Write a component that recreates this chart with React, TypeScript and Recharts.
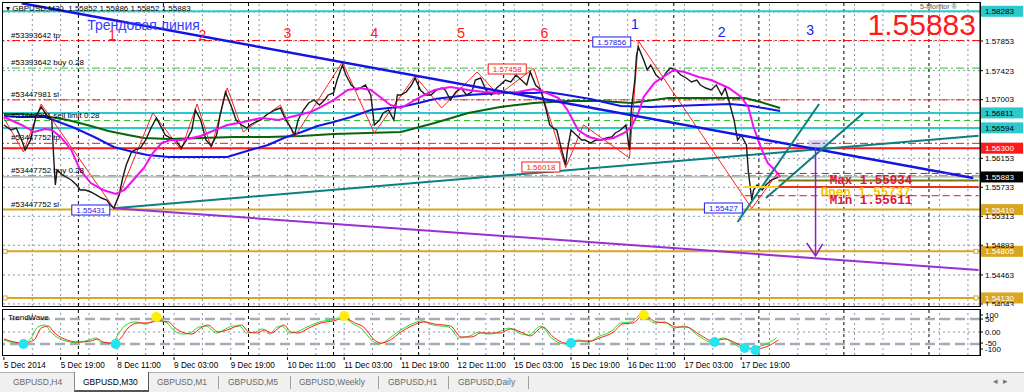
import React from "react";
import {
  ComposedChart,
  Line,
  XAxis,
  YAxis,
  ReferenceLine,
  ReferenceDot,
  ReferenceArea,
  Scatter,
} from "recharts";

const FONT = "'Liberation Sans', Arial, sans-serif";
const MONO = "'Liberation Mono', 'DejaVu Sans Mono', monospace";

// x = M30 bar index counted from 5 Dec 2014 03:00
const closes: [number, number][] = [
  [0, 1.56636], [4, 1.56563], [7, 1.56592], [10, 1.56418], [12, 1.56274], [15, 1.56418], [18, 1.56752],
  [21, 1.56897], [24, 1.56781], [27, 1.56708], [28, 1.56201], [29, 1.55766], [30, 1.55984], [33, 1.55911],
  [38, 1.55839], [41, 1.55766], [43, 1.55694], [46, 1.55694], [49, 1.55665], [52, 1.55622], [55, 1.55578],
  [58, 1.55549], [60, 1.55477], [62, 1.55433], [65, 1.55622], [67, 1.55868], [69, 1.56056], [72, 1.56245],
  [74, 1.56274], [77, 1.56303], [80, 1.56418], [83, 1.56592], [86, 1.56737], [89, 1.56592], [91, 1.56491],
  [94, 1.56447], [97, 1.56418], [100, 1.56303], [103, 1.56418], [106, 1.56563], [108, 1.56853], [111, 1.56708],
  [114, 1.56418], [117, 1.56332], [120, 1.56491], [122, 1.56781], [125, 1.57114], [128, 1.56926], [131, 1.56708],
  [134, 1.56636], [137, 1.56592], [139, 1.56636], [142, 1.56679], [145, 1.56708], [148, 1.56781], [151, 1.56824],
  [153, 1.56853], [156, 1.56882], [159, 1.56708], [162, 1.56592], [164, 1.56491], [166, 1.56708], [169, 1.56853],
  [172, 1.56955], [175, 1.56998], [178, 1.56926], [181, 1.56998], [183, 1.57071], [186, 1.571], [188, 1.57288],
  [191, 1.57505], [193, 1.5736], [196, 1.57215], [199, 1.57143], [201, 1.57172], [204, 1.57215], [207, 1.57071],
  [209, 1.56636], [212, 1.56708], [214, 1.5681], [217, 1.56853], [220, 1.56708], [222, 1.57071], [224, 1.57071],
  [227, 1.57114], [230, 1.57215], [232, 1.57317], [235, 1.57143], [238, 1.57071], [241, 1.57071], [244, 1.57143],
  [247, 1.57172], [249, 1.57143], [252, 1.56998], [255, 1.57114], [258, 1.57172], [261, 1.57071], [264, 1.57114],
  [266, 1.57288], [269, 1.57317], [272, 1.57143], [275, 1.57071], [278, 1.57172], [280, 1.57215], [283, 1.57288],
  [286, 1.57259], [289, 1.5736], [292, 1.57288], [295, 1.57215], [297, 1.57404], [300, 1.57215], [303, 1.57143],
  [306, 1.56853], [308, 1.56636], [310, 1.56592], [312, 1.56563], [314, 1.56346], [317, 1.56056], [318, 1.56274],
  [320, 1.56563], [323, 1.56491], [326, 1.56418], [328, 1.56418], [331, 1.56375], [334, 1.56418], [337, 1.56418],
  [340, 1.56447], [343, 1.56462], [345, 1.5652], [348, 1.56563], [351, 1.56636], [353, 1.56274], [354, 1.56853],
  [356, 1.57288], [357, 1.5765], [358, 1.57766], [361, 1.57578], [363, 1.57433], [365, 1.57505], [368, 1.5736],
  [371, 1.57288], [374, 1.57404], [376, 1.57462], [379, 1.57433], [382, 1.5736], [385, 1.57317], [388, 1.57259],
  [391, 1.57288], [393, 1.57215], [396, 1.57172], [399, 1.57143], [402, 1.57215], [405, 1.57071], [407, 1.57172],
  [409, 1.56998], [412, 1.56708], [414, 1.56418], [416, 1.56491], [419, 1.56346], [420, 1.55984], [422, 1.55549],
  [423, 1.55694], [425, 1.55766], [428, 1.55694], [430, 1.55766], [433, 1.55839], [436, 1.55868], [437, 1.55883],
];

const zigzag: [number, number][] = [
  [0, 1.56737], [11, 1.56245], [21, 1.5694], [62, 1.55431], [84, 1.5681], [100, 1.56274], [109, 1.5694],
  [117, 1.56303], [126, 1.57172], [135, 1.56534], [156, 1.56926], [164, 1.56462], [191, 1.57549], [209, 1.5652],
  [232, 1.57346], [247, 1.56882], [267, 1.57404], [279, 1.57071], [299, 1.57458], [317, 1.56018], [327, 1.56636],
  [353, 1.56158], [358, 1.57856], [422, 1.55427], [437, 1.55955],
];

const maMagenta: [number, number][] = [
  [0, 1.56752], [10, 1.56636], [17, 1.56534], [23, 1.56578], [27, 1.56563], [32, 1.56462], [38, 1.56274],
  [43, 1.55984], [49, 1.55795], [56, 1.55694], [63, 1.55636], [68, 1.55694], [73, 1.55839], [79, 1.56013],
  [84, 1.5623], [89, 1.56375], [94, 1.56418], [100, 1.56418], [106, 1.56447], [111, 1.56476], [126, 1.56636],
  [135, 1.56679], [145, 1.56737], [155, 1.56708], [164, 1.56766], [173, 1.56824], [179, 1.56897], [186, 1.56998],
  [194, 1.57143], [201, 1.57172], [207, 1.57143], [213, 1.57027], [218, 1.56926], [224, 1.56882], [230, 1.56969],
  [235, 1.57042], [243, 1.57143], [252, 1.57187], [262, 1.57143], [271, 1.57114], [280, 1.571], [290, 1.57114],
  [299, 1.57158], [305, 1.57114], [313, 1.57027], [318, 1.56853], [324, 1.56563], [330, 1.56462], [337, 1.56418],
  [344, 1.56447], [350, 1.5652], [354, 1.56607], [358, 1.5681], [361, 1.57042], [367, 1.57244], [372, 1.57331],
  [378, 1.57433], [384, 1.57404], [392, 1.57331], [399, 1.57288], [409, 1.57172], [416, 1.57042], [420, 1.56897],
  [423, 1.56607], [427, 1.56317], [431, 1.56085], [435, 1.55984], [438, 1.55882],
];

const maBlue: [number, number][] = [
  [0, 1.56766], [10, 1.56752], [23, 1.56752], [28, 1.56708], [40, 1.56592], [51, 1.56462], [62, 1.56317],
  [73, 1.56245], [81, 1.56201], [93, 1.56172], [111, 1.56172], [126, 1.56172], [139, 1.56274], [149, 1.56346],
  [158, 1.56447], [168, 1.56534], [177, 1.56621], [186, 1.56679], [196, 1.56752], [207, 1.56853], [217, 1.56882],
  [224, 1.56897], [234, 1.56955], [243, 1.57013], [262, 1.57071], [280, 1.571], [299, 1.571], [306, 1.57114],
  [314, 1.57085], [331, 1.57013], [348, 1.56911], [365, 1.56897], [393, 1.56926], [410, 1.5694], [422, 1.56911],
  [438, 1.56839],
];

const maGreen: [number, number][] = [
  [0, 1.56795], [10, 1.56795], [23, 1.56766], [36, 1.56708], [47, 1.56636], [59, 1.56549], [70, 1.56491],
  [79, 1.56447], [93, 1.56433], [111, 1.56447], [130, 1.56462], [149, 1.56462], [168, 1.56476], [186, 1.56505],
  [205, 1.5652], [224, 1.56534], [243, 1.56665], [262, 1.5681], [280, 1.56897], [299, 1.56955], [318, 1.56984],
  [337, 1.56984], [354, 1.56955], [375, 1.57027], [393, 1.57027], [418, 1.57027], [427, 1.56969], [438, 1.56882],
];

const trendBlue: [number, number][] = [[10, 1.584], [547, 1.55868]];
const trendTeal: [number, number][] = [[62, 1.55431], [550, 1.56479]];
const trendPurple: [number, number][] = [[62, 1.55431], [550, 1.54536]];
const channelLow: [number, number][] = [[414, 1.5523], [460, 1.5694]];
const channelHigh: [number, number][] = [[430, 1.55578], [485, 1.5681]];
const arrowShaft: [number, number][] = [[458, 1.56303], [458, 1.54738]];
const arrowHead: [number, number][] = [[453, 1.54926], [458, 1.54738], [462, 1.54912]];

const dayMax: [number, number][] = [[418, 1.55934], [550, 1.55934]];
const dayOpen: [number, number][] = [[418, 1.55737], [437, 1.55737]];
const dayOpenRest: [number, number][] = [[437, 1.55737], [550, 1.55737]];
const dayMin: [number, number][] = [[418, 1.55611], [550, 1.55611]];
const dayClose: [number, number][] = [[437, 1.5583], [550, 1.5583]];

// horizontal levels: price, kind, tag text on the price scale
const levels: { price: number; kind: string; tag?: string }[] = [
  { price: 1.58283, kind: "cyan", tag: "1.58283" },
  { price: 1.5786, kind: "tp" },
  { price: 1.5746, kind: "buy" },
  { price: 1.57, kind: "sl" },
  { price: 1.56811, kind: "cyan", tag: "1.56811" },
  { price: 1.567, kind: "limit" },
  { price: 1.56594, kind: "cyan", tag: "1.56594" },
  { price: 1.5637, kind: "tp" },
  { price: 1.563, kind: "red", tag: "1.56300" },
  { price: 1.559, kind: "buy" },
  { price: 1.55883, kind: "bid", tag: "1.55883" },
  { price: 1.5541, kind: "gold", tag: "1.55410" },
  { price: 1.54805, kind: "gold", tag: "1.54805" },
  { price: 1.5413, kind: "gold", tag: "1.54130" },
];

const orderTexts: [number, string][] = [
  [1.5786, "#53393642 tp"],
  [1.5746, "#53393642 buy 0.28"],
  [1.57, "#53447981 sl"],
  [1.567, "#53447981 sell limit 0.28"],
  [1.5637, "#53447752 tp"],
  [1.559, "#53447752 buy 0.28"],
  [1.5541, "#53447752 sl"],
];

const waveLabels: [number, number, string, string][] = [
  [61, 1.5794, "1", "red"], [112, 1.5794, "2", "red"], [160, 1.57969, "3", "red"],
  [209, 1.57969, "4", "red"], [258, 1.57969, "5", "red"], [305, 1.57969, "6", "red"],
  [356, 1.58099, "1", "blue"], [405, 1.57983, "2", "blue"], [455, 1.58012, "3", "blue"],
];

const swingTags: [number, number, string, string][] = [
  [49, 1.55404, "1.55431", "blue"],
  [303, 1.56027, "1.56018", "red"],
  [284, 1.57447, "1.57458", "red"],
  [343, 1.57839, "1.57856", "blue"],
  [406, 1.55433, "1.55427", "blue"],
];

const priceTicks = [1.57853, 1.57423, 1.57003, 1.56153, 1.55733, 1.55313, 1.54893, 1.54463, 1.54043];
const gridPrices = [1.58273, 1.57853, 1.57423, 1.57003, 1.56583, 1.56153, 1.55733, 1.55313, 1.54893, 1.54463, 1.54043];
const gridBars = [
  16, 32, 48, 64, 80, 96, 112, 128, 144, 160, 176, 192, 208, 224, 240, 256, 272, 288, 304, 320, 336, 352,
  368, 384, 400, 416, 432, 448, 464, 480, 496, 512, 528, 544,
];
const daySeps = [42, 90, 138, 186, 234, 282, 330, 378, 426, 474, 522];

const timeTicks = [0, 32, 64, 96, 128, 160, 192, 224, 256, 288, 320, 352, 384, 416];
const timeLabels = [
  "5 Dec 2014", "5 Dec 19:00", "8 Dec 11:00", "9 Dec 03:00", "9 Dec 19:00", "10 Dec 11:00", "11 Dec 03:00",
  "11 Dec 19:00", "12 Dec 11:00", "15 Dec 03:00", "15 Dec 19:00", "16 Dec 11:00", "17 Dec 03:00", "17 Dec 19:00",
];

// TrendWave oscillator
const waveRed: [number, number][] = [
  [0, -41], [6, -59], [11, -65], [17, -47], [21, 23], [25, 35], [28, 0], [34, -41], [42, -59], [49, -53],
  [53, -41], [56, -59], [62, -65], [66, -35], [70, 23], [76, 53], [81, 53], [87, 65], [93, 59], [96, 29],
  [102, -6], [106, -12], [111, 23], [115, 41], [121, 0], [126, 12], [130, 29], [134, 41], [138, 0], [143, -6],
  [147, 12], [151, -6], [155, 23], [158, 41], [162, 0], [166, -6], [172, 23], [179, 53], [186, 65], [192, 82],
  [198, 53], [203, 29], [209, -47], [213, -65], [218, -47], [224, 0], [230, 35], [237, 59], [243, 47], [252, 35],
  [258, -29], [264, -29], [269, -6], [275, -6], [280, -6], [286, 18], [293, -6], [297, -23], [304, 29], [310, -29],
  [317, -65], [325, -53], [331, -53], [336, -35], [344, 0], [349, 47], [355, 53], [361, 100], [368, 59], [374, 53],
  [379, 29], [385, 29], [393, -18], [400, -53], [407, -41], [413, -65], [419, -94], [424, -100], [430, -88], [437, -47],
];
const waveGreen: [number, number][] = [
  [0, -47], [5, -62], [10, -68], [15, -41], [19, 29], [23, 41], [27, -6], [33, -47], [41, -62], [48, -47],
  [52, -35], [55, -62], [61, -68], [64, -23], [68, 35], [74, 59], [80, 47], [86, 71], [92, 53], [95, 18],
  [101, -12], [105, -6], [110, 29], [114, 35], [120, -6], [125, 18], [129, 35], [133, 35], [137, -6], [142, 0],
  [146, 18], [150, -12], [154, 29], [157, 35], [161, -6], [165, 0], [171, 29], [178, 59], [185, 71], [191, 88],
  [197, 47], [202, 18], [208, -53], [212, -70], [217, -41], [223, 6], [229, 41], [236, 65], [242, 41], [251, 29],
  [257, -35], [263, -23], [268, 0], [274, -12], [279, 0], [285, 23], [292, -12], [296, -18], [303, 35], [309, -35],
  [316, -70], [324, -47], [330, -59], [335, -29], [343, 6], [348, 53], [354, 59], [360, 106], [367, 53], [373, 59],
  [378, 23], [384, 35], [392, -23], [399, -59], [406, -35], [412, -70], [418, -100], [423, -94], [429, -76], [436, -35],
];
const wavePeaks: [number, number][] = [[86, 88], [192, 94], [361, 100]];
const waveTroughs: [number, number][] = [[11, -70], [63, -70], [320, -65], [401, -59], [418, -94], [424, -106]];
const waveTicks = [100, 76, 0, -65, -100];
const waveTickLabels = ["100", "50", "0.00", "-50", "-100"];
const waveLevels = [76, -70];

const tabs = ["GBPUSD,H4", "GBPUSD,M30", "GBPUSD,M1", "GBPUSD,M5", "GBPUSD,Weekly", "GBPUSD,H1", "GBPUSD,Daily"];

const X_DOMAIN: [number, number] = [-1.1, 550.8];
const toP = (a: [number, number][]) => a.map(([i, p]) => ({ i, p }));
const toV = (a: [number, number][]) => a.map(([i, v]) => ({ i, v }));

const levelStyle: Record<string, { stroke: string; width: number; dash?: string; bg?: string; fg?: string }> = {
  cyan: { stroke: "#2cc9cc", width: 2, bg: "#2cc9cc", fg: "#000" },
  tp: { stroke: "#ff1010", width: 1, dash: "8 3 2 3" },
  sl: { stroke: "#ff1010", width: 1, dash: "8 3 2 3" },
  buy: { stroke: "#22c322", width: 1, dash: "8 3 2 3" },
  limit: { stroke: "#22c322", width: 1, dash: "6 4" },
  red: { stroke: "#ff1a1a", width: 2, bg: "#ff1a1a", fg: "#fff" },
  bid: { stroke: "#9a9a9a", width: 1, bg: "#000", fg: "#fff" },
  gold: { stroke: "#daa520", width: 2, bg: "#daa520", fg: "#fff" },
};

const seg = (key: string, data: [number, number][], stroke: string, width: number, dash?: string) => (
  <Line
    key={key}
    data={toP(data)}
    dataKey="p"
    type="linear"
    stroke={stroke}
    strokeWidth={width}
    strokeDasharray={dash}
    dot={false}
    activeDot={false}
    isAnimationActive={false}
  />
);

const TimeTick = (props: any) => {
  const { x, y, payload } = props;
  const idx = timeTicks.indexOf(payload.value);
  return (
    <g>
      <line x1={x} y1={y} x2={x} y2={y + 3} stroke="#000" />
      <text x={x} y={y + 11} fontSize={8.2} fontFamily={FONT} fill="#000">
        {idx >= 0 ? timeLabels[idx] : ""}
      </text>
    </g>
  );
};

export default function App() {
  return (
    <div style={{ position: "absolute", left: 0, top: 0, width: 1024, height: 392, background: "#fff", overflow: "hidden" }}>
      {/* main price panel */}
      <div style={{ position: "absolute", left: 0, top: 0 }}>
        <ComposedChart width={1024} height={306} margin={{ top: 2, right: 0, left: 2, bottom: 0 }}>
          <XAxis dataKey="i" type="number" domain={X_DOMAIN} allowDataOverflow hide />
          <YAxis
            type="number"
            orientation="right"
            domain={[1.54013, 1.58418]}
            allowDataOverflow
            ticks={priceTicks}
            width={44}
            tickSize={3}
            tickMargin={2}
            interval={0}
            tickFormatter={(v: number) => v.toFixed(5)}
            tick={{ fontSize: 8, fill: "#000", fontFamily: FONT, textAnchor: "start" }}
            axisLine={{ stroke: "#000" }}
            tickLine={{ stroke: "#000" }}
          />
          {gridPrices.map((g) => (
            <ReferenceLine key={"gy" + g} y={g} stroke="#8a96a6" strokeDasharray="2 3" />
          ))}
          {gridBars.map((g) => (
            <ReferenceLine key={"gx" + g} x={g} stroke="#8a96a6" strokeDasharray="2 3" />
          ))}
          {daySeps.map((g) => (
            <ReferenceLine key={"ds" + g} x={g} stroke="#000" strokeDasharray="3 3" />
          ))}
          {levels.map((l, k) => {
            const s = levelStyle[l.kind];
            return (
              <ReferenceLine key={"lv" + k} y={l.price} stroke={s.stroke} strokeWidth={s.width} strokeDasharray={s.dash} />
            );
          })}
          <ReferenceArea x1={454} x2={465} y1={1.56259} y2={1.56418} fill="#b8b8f0" fillOpacity={0.6} stroke="none" />
          {seg("teal", trendTeal, "#0a8080", 2)}
          {seg("purple", trendPurple, "#9a2fd6", 2)}
          {seg("green", maGreen, "#0a640a", 2)}
          {seg("blueMa", maBlue, "#1414e6", 2)}
          {seg("zig", zigzag, "#ff2020", 1)}
          {seg("close", closes, "#1a1a1a", 1.4)}
          {seg("mag", maMagenta, "#f010f0", 2)}
          {seg("blueTrend", trendBlue, "#1414e6", 2.5)}
          {seg("chLow", channelLow, "#0a8080", 2)}
          {seg("chHigh", channelHigh, "#0a8080", 2)}
          {seg("max", dayMax, "#e01030", 1, "7 4")}
          {seg("close2", dayClose, "#7a7a10", 2)}
          {seg("open", dayOpen, "#ffd21a", 2)}
          {seg("openRest", dayOpenRest, "#f03010", 2)}
          {seg("min", dayMin, "#e01030", 1, "7 4")}
          {seg("arrow", arrowShaft, "#8a20c8", 1.5)}
          {seg("arrowHead", arrowHead, "#8a20c8", 1.5)}
          {levels
            .filter((l) => l.tag)
            .map((l, k) => {
              const s = levelStyle[l.kind];
              return (
                <ReferenceDot
                  key={"tag" + k}
                  x={X_DOMAIN[1]}
                  y={l.price}
                  r={1}
                  ifOverflow="visible"
                  shape={(d: any) => (
                    <g>
                      <rect x={d.cx + 1} y={d.cy - 5.5} width={42} height={11} fill={s.bg} />
                      <text x={d.cx + 5} y={d.cy + 3} fontSize={8} fontFamily={FONT} fill={s.fg}>
                        {l.tag}
                      </text>
                    </g>
                  )}
                />
              );
            })}
          {orderTexts.map(([p, t], k) => (
            <ReferenceDot
              key={"ot" + k}
              x={4}
              y={p}
              r={1}
              ifOverflow="visible"
              shape={(d: any) => (
                <text x={d.cx} y={d.cy - 3} fontSize={8} fontFamily={FONT} fill="#000">
                  {t}
                </text>
              )}
            />
          ))}
          {waveLabels.map(([i, p, t, c], k) => (
            <ReferenceDot
              key={"wl" + k}
              x={i}
              y={p}
              r={1}
              ifOverflow="visible"
              shape={(d: any) => (
                <text x={d.cx} y={d.cy + 5} fontSize={14} fontFamily={FONT} textAnchor="middle" fill={c === "red" ? "#ff1a1a" : "#2020ee"}>
                  {t}
                </text>
              )}
            />
          ))}
          {swingTags.map(([i, p, t, c], k) => (
            <ReferenceDot
              key={"sw" + k}
              x={i}
              y={p}
              r={1}
              ifOverflow="visible"
              shape={(d: any) => (
                <g>
                  <rect x={d.cx - 19} y={d.cy - 5} width={38} height={10} fill="#fff" stroke={c === "red" ? "#ff1a1a" : "#1a1aee"} />
                  <text x={d.cx} y={d.cy + 3} fontSize={8} fontFamily={FONT} textAnchor="middle" fill={c === "red" ? "#ff1a1a" : "#1a1aee"}>
                    {t}
                  </text>
                </g>
              )}
            />
          ))}
          <ReferenceDot
            x={47}
            y={1.58085}
            r={1}
            ifOverflow="visible"
            shape={(d: any) => (
              <text x={d.cx} y={d.cy + 5} fontSize={14} fontFamily={FONT} fill="#3a3aff">
                Трендовая линия
              </text>
            )}
          />
          <ReferenceDot
            x={466}
            y={1.55834}
            r={1}
            ifOverflow="visible"
            shape={(d: any) => (
              <text x={d.cx} y={d.cy + 4} fontSize={12.5} fontWeight="bold" fontFamily={MONO} fill="#dc143c">
                Max 1.55934
              </text>
            )}
          />
          <ReferenceDot
            x={461}
            y={1.55665}
            r={1}
            ifOverflow="visible"
            shape={(d: any) => (
              <text x={d.cx} y={d.cy + 4} fontSize={12.5} fontWeight="bold" fontFamily={MONO} fill="#f5c800">
                Open 1.55737
              </text>
            )}
          />
          <ReferenceDot
            x={466}
            y={1.55549}
            r={1}
            ifOverflow="visible"
            shape={(d: any) => (
              <text x={d.cx} y={d.cy + 4} fontSize={12.5} fontWeight="bold" fontFamily={MONO} fill="#dc143c">
                Min 1.55611
              </text>
            )}
          />
          {[1.54805, 1.5413].map((p) => (
            <ReferenceDot
              key={"sq" + p}
              x={X_DOMAIN[0]}
              y={p}
              r={1}
              ifOverflow="visible"
              shape={(d: any) => (
                <g>
                  <rect x={d.cx + 1} y={d.cy - 2} width={4} height={4} fill="#fff" stroke="#daa520" />
                  <rect x={d.cx + 972} y={d.cy - 2} width={4} height={4} fill="#fff" stroke="#daa520" />
                </g>
              )}
            />
          ))}
        </ComposedChart>
        <div style={{ position: "absolute", left: 2, top: 2, width: 977, height: 303, border: "1px solid #000", pointerEvents: "none" }} />
      </div>

      {/* header texts */}
      <div style={{ position: "absolute", left: 6, top: 4, fontSize: 8, fontFamily: FONT, color: "#000", whiteSpace: "nowrap", lineHeight: "9px" }}>
        ▾ GBPUSD,M30&nbsp;&nbsp;1.55852 1.55886 1.55852 1.55883
      </div>
      <div style={{ position: "absolute", left: 920, top: 3, fontSize: 7, fontFamily: FONT, color: "#555", whiteSpace: "nowrap" }}>
        5-Monitor ®
      </div>
      <div style={{ position: "absolute", right: 48, top: 10, fontSize: 30, fontFamily: FONT, color: "#ff1a1a", lineHeight: "30px" }}>
        1.55883
      </div>

      {/* TrendWave panel */}
      <div style={{ position: "absolute", left: 0, top: 307 }}>
        <ComposedChart width={1024} height={64} margin={{ top: 2, right: 0, left: 2, bottom: 0 }}>
          <XAxis
            dataKey="i"
            type="number"
            domain={X_DOMAIN}
            allowDataOverflow
            ticks={timeTicks}
            interval={0}
            height={16}
            tickSize={0}
            tick={<TimeTick />}
            tickLine={false}
            axisLine={false}
          />
          <YAxis
            type="number"
            orientation="right"
            domain={[-135, 135]}
            allowDataOverflow
            ticks={waveTicks}
            interval={0}
            width={44}
            tickSize={3}
            tickMargin={2}
            tickFormatter={(v: number) => waveTickLabels[waveTicks.indexOf(v)] ?? ""}
            tick={{ fontSize: 8, fill: "#000", fontFamily: FONT, textAnchor: "start" }}
            axisLine={{ stroke: "#000" }}
            tickLine={{ stroke: "#000" }}
          />
          {gridBars.map((g) => (
            <ReferenceLine key={"wgx" + g} x={g} stroke="#8a96a6" strokeDasharray="2 3" />
          ))}
          {daySeps.map((g) => (
            <ReferenceLine key={"wds" + g} x={g} stroke="#000" strokeDasharray="3 3" />
          ))}
          <ReferenceLine y={0} stroke="#8a96a6" strokeDasharray="2 3" />
          {waveLevels.map((v) => (
            <ReferenceLine key={"wlv" + v} y={v} stroke="#a4acb8" strokeWidth={2.5} strokeDasharray="10 5" />
          ))}
          <Line data={toV(waveGreen)} dataKey="v" type="monotone" stroke="#20e020" strokeWidth={1} dot={false} activeDot={false} isAnimationActive={false} />
          <Line data={toV(waveRed)} dataKey="v" type="monotone" stroke="#ff1a1a" strokeWidth={1} dot={false} activeDot={false} isAnimationActive={false} />
          <Scatter
            data={toV(wavePeaks)}
            dataKey="v"
            isAnimationActive={false}
            shape={(d: any) => <circle cx={d.cx} cy={d.cy} r={5} fill="#ffee00" />}
          />
          <Scatter
            data={toV(waveTroughs)}
            dataKey="v"
            isAnimationActive={false}
            shape={(d: any) => <circle cx={d.cx} cy={d.cy} r={5} fill="#22e5f0" />}
          />
        </ComposedChart>
        <div style={{ position: "absolute", left: 2, top: 2, width: 977, height: 45, border: "1px solid #000", pointerEvents: "none" }} />
        <div style={{ position: "absolute", left: 8, top: 6, fontSize: 8, fontFamily: FONT, color: "#000" }}>TrendWave</div>
      </div>

      {/* tab bar */}
      <div style={{ position: "absolute", left: 0, top: 372, width: 1024, height: 20, background: "#f0f0f0", borderTop: "1px solid #b0b0b0" }}>
        {tabs.map((t, k) => {
          const lefts = [13, 83, 157, 228, 299, 388, 458];
          const active = k === 1;
          return (
            <React.Fragment key={t}>
              {active && (
                <div style={{ position: "absolute", left: 74, top: -1, width: 73, height: 18, background: "#fff", borderLeft: "1px solid #888", borderRight: "1px solid #555", borderBottom: "2px solid #555" }} />
              )}
              <div style={{ position: "absolute", left: lefts[k], top: 4, fontSize: 8.5, fontFamily: FONT, color: active ? "#000" : "#6a6a6a", whiteSpace: "nowrap" }}>
                {t}
              </div>
            </React.Fragment>
          );
        })}
        {[218, 290, 378, 448, 528].map((x) => (
          <div key={x} style={{ position: "absolute", left: x, top: 3, width: 1, height: 13, background: "#a0a0a0" }} />
        ))}
        <div style={{ position: "absolute", left: 993, top: 3, fontSize: 9, color: "#777", fontFamily: FONT }}>◂&nbsp;&nbsp;▸</div>
      </div>
    </div>
  );
}
